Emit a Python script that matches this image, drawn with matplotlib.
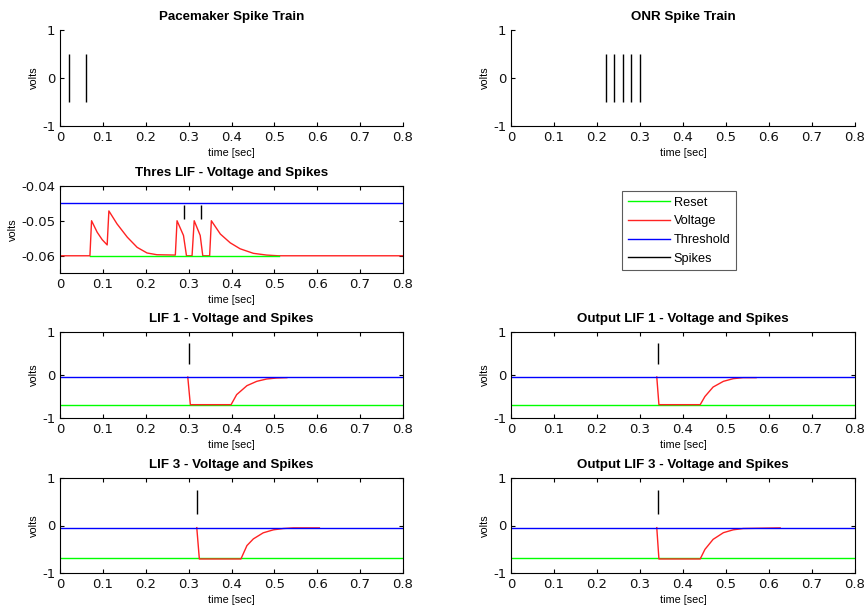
import matplotlib
matplotlib.use("Agg")
import matplotlib.pyplot as plt
from matplotlib.lines import Line2D

plt.rcParams['axes.unicode_minus'] = False

# ---------------- data ----------------
pacemaker_spikes = [0.02, 0.06]
onr_spikes = [0.22, 0.24, 0.26, 0.28, 0.30]
train_spike_range = [-0.5, 0.5]

thres_t = [0.0, 0.0698, 0.0736, 0.0868, 0.0984, 0.110, 0.114, 0.133, 0.157, 0.180,
           0.203, 0.226, 0.269, 0.273, 0.288, 0.295, 0.308, 0.313, 0.327, 0.333,
           0.349, 0.353, 0.374, 0.397, 0.420, 0.451, 0.482, 0.509, 0.800]
thres_v = [-0.060, -0.060, -0.0500, -0.0533, -0.0554, -0.0569, -0.0472, -0.0509, -0.0547, -0.0576,
           -0.0592, -0.0597, -0.0598, -0.0500, -0.0542, -0.0600, -0.0600, -0.0500, -0.0542, -0.0600,
           -0.0600, -0.0500, -0.0538, -0.0563, -0.0580, -0.0593, -0.0598, -0.0600, -0.0600]
thres_threshold = -0.045
thres_reset = -0.06
thres_reset_span = [0.07, 0.51]
thres_spikes = [0.29, 0.33]
thres_spike_range = [-0.0455, -0.0495]

lif_threshold = -0.045
lif_reset = -0.69
lif_spike_range = [0.25, 0.75]

lif1_t = [0.298, 0.304, 0.399, 0.412, 0.436, 0.459, 0.482, 0.505, 0.529]
lif1_v = [-0.047, -0.69, -0.69, -0.457, -0.248, -0.147, -0.093, -0.070, -0.062]
lif1_spikes = [0.30]

lif3_t = [0.319, 0.325, 0.422, 0.436, 0.451, 0.474, 0.498, 0.521, 0.544, 0.605]
lif3_v = [-0.045, -0.70, -0.70, -0.42, -0.28, -0.153, -0.090, -0.063, -0.050, -0.050]
lif3_spikes = [0.32]

out1_t = [0.339, 0.344, 0.440, 0.451, 0.470, 0.494, 0.517, 0.540, 0.570]
out1_v = [-0.045, -0.69, -0.69, -0.50, -0.28, -0.147, -0.085, -0.062, -0.062]
out1_spikes = [0.343]

out3_t = [0.339, 0.344, 0.440, 0.451, 0.470, 0.494, 0.517, 0.540, 0.626]
out3_v = [-0.045, -0.70, -0.70, -0.50, -0.29, -0.150, -0.090, -0.063, -0.050]
out3_spikes = [0.341]

xticks = [0, 0.1, 0.2, 0.3, 0.4, 0.5, 0.6, 0.7, 0.8]
xticklabels = ['0', '0.1', '0.2', '0.3', '0.4', '0.5', '0.6', '0.7', '0.8']

# ---------------- figure ----------------
W, H = 866, 610
fig = plt.figure(figsize=(W / 100, H / 100), dpi=100)

def pos(x0, x1, ytop, ybot):
    return [x0 / W, 1 - ybot / H, (x1 - x0) / W, (ybot - ytop) / H]

LX = (60, 403)
RX = (511, 855)
rows = [(30, 126), (185.7, 273.3), (332, 418), (477.7, 573.3)]

GREEN = '#00ff00'
RED = '#ff2222'
BLUE = '#0000ff'

label_font = dict(family='Liberation Sans', fontsize=7.8)
title_font = dict(family='Liberation Sans', fontsize=9.6, fontweight='bold')


def style(ax, title, ylim, yticks, yticklabels, box=True):
    ax.set_xlim(0, 0.8)
    ax.set_ylim(*ylim)
    ax.set_xticks(xticks)
    ax.set_xticklabels(xticklabels)
    ax.set_yticks(yticks)
    ax.set_yticklabels(yticklabels)
    ax.tick_params(direction='in', length=3, width=0.8, labelsize=9.5, pad=3.5,
                   top=box, right=box, labelcolor='#111111')
    for lab in ax.get_xticklabels() + ax.get_yticklabels():
        lab.set_family('DejaVu Sans')
    for s in ax.spines.values():
        s.set_linewidth(0.8)
    if not box:
        ax.spines['top'].set_visible(False)
        ax.spines['right'].set_visible(False)
    ax.set_xlabel('time [sec]', labelpad=3, **label_font)
    ax.set_ylabel('volts', labelpad=2, **label_font)
    ax.set_title(title, pad=7.2, **title_font)


# Row 1: spike trains
ax = fig.add_axes(pos(*LX, *rows[0]))
ax.vlines(pacemaker_spikes, *train_spike_range, colors='black', lw=1.0)
style(ax, 'Pacemaker Spike Train', (-1, 1), [-1, 0, 1], ['-1', '0', '1'], box=False)

ax = fig.add_axes(pos(*RX, *rows[0]))
ax.vlines(onr_spikes, *train_spike_range, colors='black', lw=1.0)
style(ax, 'ONR Spike Train', (-1, 1), [-1, 0, 1], ['-1', '0', '1'], box=False)

# Row 2: threshold LIF
ax = fig.add_axes(pos(*LX, *rows[1]))
ax.plot(thres_t, thres_v, color=RED, lw=1.0)
ax.plot(thres_reset_span, [thres_reset, thres_reset], color=GREEN, lw=1.0)
ax.axhline(thres_threshold, color=BLUE, lw=1.0)
ax.vlines(thres_spikes, *thres_spike_range, colors='black', lw=1.0)
style(ax, 'Thres LIF - Voltage and Spikes', (-0.065, -0.04),
      [-0.06, -0.05, -0.04], ['-0.06', '-0.05', '-0.04'])

# Legend
handles = [Line2D([], [], color=GREEN, lw=1.0),
           Line2D([], [], color=RED, lw=1.0),
           Line2D([], [], color=BLUE, lw=1.0),
           Line2D([], [], color='black', lw=1.0)]
leg = fig.legend(handles, ['Reset', 'Voltage', 'Threshold', 'Spikes'],
                 loc='upper left', bbox_to_anchor=(622 / W, 1 - 191 / H),
                 bbox_transform=fig.transFigure, borderaxespad=0,
                 frameon=True, fancybox=False, edgecolor='#333333',
                 prop={'family': 'Liberation Sans', 'size': 9.2},
                 handlelength=3.3, handletextpad=0.3, labelspacing=0.52,
                 borderpad=0.45)
leg.get_frame().set_linewidth(0.8)


def lif_panel(rect, t, v, spikes, title):
    ax = fig.add_axes(rect)
    ax.axhline(lif_reset, color=GREEN, lw=1.0)
    ax.plot(t, v, color=RED, lw=1.0)
    ax.axhline(lif_threshold, color=BLUE, lw=1.0)
    ax.vlines(spikes, *lif_spike_range, colors='black', lw=1.0)
    style(ax, title, (-1, 1), [-1, 0, 1], ['-1', '0', '1'])
    return ax


lif_panel(pos(*LX, *rows[2]), lif1_t, lif1_v, lif1_spikes, 'LIF 1 - Voltage and Spikes')
lif_panel(pos(*RX, *rows[2]), out1_t, out1_v, out1_spikes, 'Output LIF 1 - Voltage and Spikes')
lif_panel(pos(*LX, *rows[3]), lif3_t, lif3_v, lif3_spikes, 'LIF 3 - Voltage and Spikes')
lif_panel(pos(*RX, *rows[3]), out3_t, out3_v, out3_spikes, 'Output LIF 3 - Voltage and Spikes')

fig.savefig('out.png', dpi=100)
